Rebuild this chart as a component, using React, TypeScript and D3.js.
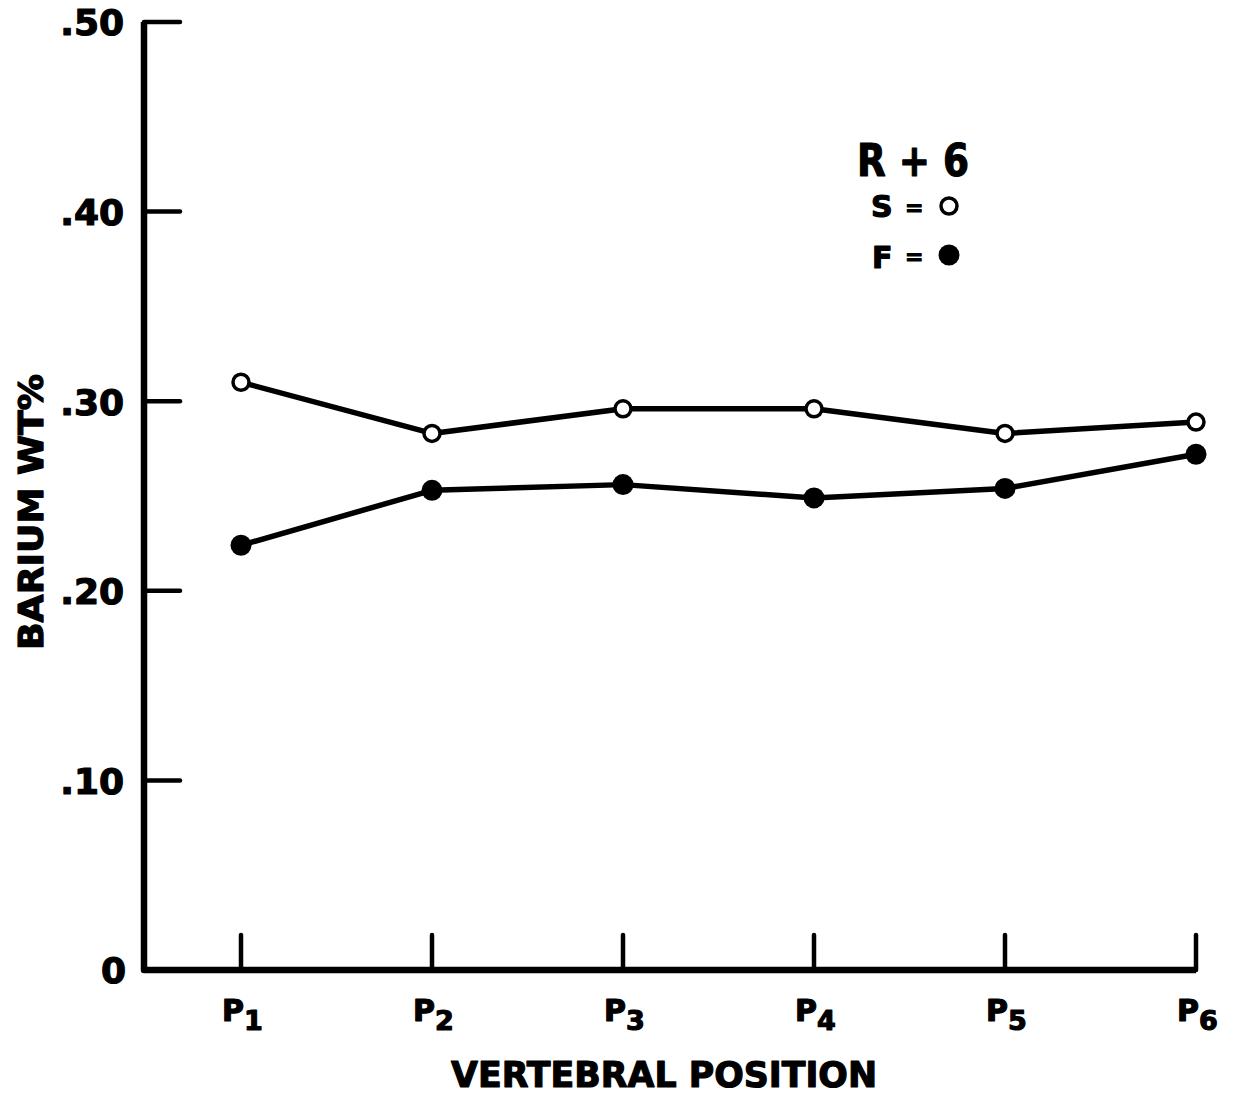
import React from "react";
import * as d3 from "d3";

// Vertebral positions along the spine
const positions = [1, 2, 3, 4, 5, 6];
const positionLabels = ["P", "P", "P", "P", "P", "P"];
const positionSubs = ["1", "2", "3", "4", "5", "6"];

// Barium weight percent, series S (open) and F (filled)
const seriesS = [0.31, 0.283, 0.296, 0.296, 0.283, 0.289];
const seriesF = [0.224, 0.253, 0.256, 0.249, 0.254, 0.272];

const yTicks = [0.1, 0.2, 0.3, 0.4, 0.5];
const yTickLabels = [".10", ".20", ".30", ".40", ".50"];

const FONT = "'DejaVu Sans', sans-serif";

export default function App() {
  const width = 1235;
  const height = 1095;
  const axisX = 144;

  const x = d3.scaleLinear().domain([1, 6]).range([241, 1196]);
  const y = d3.scaleLinear().domain([0, 0.5]).range([970, 22]);

  const line = d3
    .line<number>()
    .x((_, i) => x(positions[i]))
    .y((d) => y(d));

  const textStyle = {
    fontFamily: FONT,
    fontWeight: 700,
    fill: "#000",
    stroke: "#000",
    strokeWidth: 1.2,
    strokeLinejoin: "round" as const,
  };

  return (
    <svg
      width={width}
      height={height}
      style={{ position: "absolute", left: 0, top: 0, background: "#fff" }}
    >
      <rect width={width} height={height} fill="#fff" />

      {/* y axis */}
      <path
        d={`M${axisX},${y(0.5)} L${axisX},${y(0)} L${x(6)},${y(0)}`}
        fill="none"
        stroke="#000"
        strokeWidth={6.5}
        strokeLinejoin="round"
      />
      {yTicks.map((t) => (
        <line
          key={t}
          x1={axisX}
          x2={axisX + 36}
          y1={y(t)}
          y2={y(t)}
          stroke="#000"
          strokeWidth={4.5}
          strokeLinecap="round"
        />
      ))}
      {yTicks.map((t, i) => (
        <text
          key={"l" + t}
          x={124}
          y={y(t)}
          dy="0.37em"
          textAnchor="end"
          fontSize={36}
          style={textStyle}
        >
          {yTickLabels[i]}
        </text>
      ))}
      <text
        x={126}
        y={y(0)}
        dy="0.37em"
        textAnchor="end"
        fontSize={36}
        style={textStyle}
      >
        0
      </text>

      {/* x axis ticks */}
      {positions.map((p) => (
        <line
          key={p}
          x1={x(p)}
          x2={x(p)}
          y1={y(0)}
          y2={y(0) - 35}
          stroke="#000"
          strokeWidth={4.5}
          strokeLinecap="round"
        />
      ))}
      {positions.map((p, i) => (
        <text
          key={"p" + p}
          x={x(p) - 19}
          y={1021}
          fontSize={30}
          style={textStyle}
        >
          {positionLabels[i]}
          <tspan dy={9} fontSize={27}>
            {positionSubs[i]}
          </tspan>
        </text>
      ))}

      {/* axis titles */}
      <text
        x={451}
        y={1087}
        fontSize={36}
        textLength={426}
        lengthAdjust="spacingAndGlyphs"
        style={textStyle}
      >
        VERTEBRAL POSITION
      </text>
      <text
        transform={`translate(43,512) rotate(-90)`}
        textAnchor="middle"
        fontSize={33}
        textLength={276}
        lengthAdjust="spacingAndGlyphs"
        style={textStyle}
      >
        BARIUM WT%
      </text>

      {/* data lines */}
      <path d={line(seriesS) ?? ""} fill="none" stroke="#000" strokeWidth={5.5} strokeLinejoin="round" />
      <path d={line(seriesF) ?? ""} fill="none" stroke="#000" strokeWidth={5.5} strokeLinejoin="round" />
      {seriesS.map((v, i) => (
        <circle
          key={"s" + i}
          cx={x(positions[i])}
          cy={y(v)}
          r={8}
          fill="#fff"
          stroke="#000"
          strokeWidth={3.5}
        />
      ))}
      {seriesF.map((v, i) => (
        <circle key={"f" + i} cx={x(positions[i])} cy={y(v)} r={10.5} fill="#000" />
      ))}

      {/* legend */}
      <text x={857} y={176} fontSize={44} textLength={112} lengthAdjust="spacingAndGlyphs" style={textStyle}>
        R + 6
      </text>
      <text x={871} y={217} fontSize={30} style={textStyle}>
        S
      </text>
      <text x={905} y={215} fontSize={22} style={textStyle}>
        =
      </text>
      <circle cx={949} cy={206} r={8} fill="#fff" stroke="#000" strokeWidth={3.5} />
      <text x={872} y={268} fontSize={30} style={textStyle}>
        F
      </text>
      <text x={905} y={264} fontSize={22} style={textStyle}>
        =
      </text>
      <circle cx={949} cy={255} r={10.5} fill="#000" />
    </svg>
  );
}
